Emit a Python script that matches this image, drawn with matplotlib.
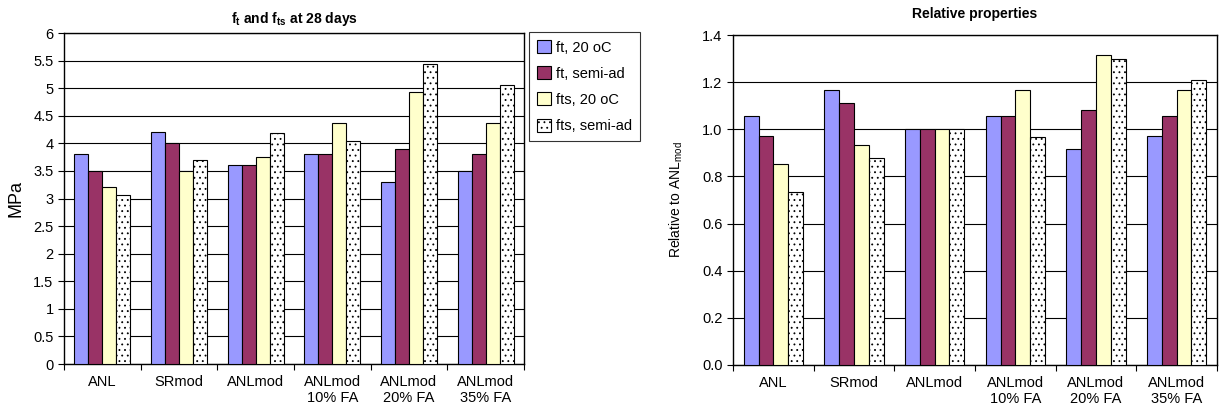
import numpy as np
import matplotlib.pyplot as plt

plt.rcParams['font.family'] = ['Liberation Sans', 'DejaVu Sans']
plt.rcParams['hatch.linewidth'] = 0.6

categories = ['ANL', 'SRmod', 'ANLmod', 'ANLmod\n10% FA', 'ANLmod\n20% FA', 'ANLmod\n35% FA']
series = ['ft, 20 oC', 'ft, semi-ad', 'fts, 20 oC', 'fts, semi-ad']

# MPa values
ft_20 = [3.8, 4.2, 3.6, 3.8, 3.3, 3.5]
ft_semi = [3.5, 4.0, 3.6, 3.8, 3.9, 3.8]
fts_20 = [3.2, 3.5, 3.75, 4.37, 4.93, 4.37]
fts_semi = [3.07, 3.7, 4.18, 4.05, 5.43, 5.05]

# relative to ANLmod
rel_ft_20 = [1.055, 1.167, 1.0, 1.056, 0.917, 0.972]
rel_ft_semi = [0.972, 1.111, 1.0, 1.056, 1.083, 1.056]
rel_fts_20 = [0.853, 0.933, 1.0, 1.165, 1.315, 1.165]
rel_fts_semi = [0.733, 0.88, 1.0, 0.969, 1.30, 1.21]

colors = ['#9999FF', '#993366', '#FFFFCC', 'white']
hatches = [None, None, None, '...']

fig = plt.figure(figsize=(12.26, 4.12), dpi=100)
ax1 = fig.add_axes([64 / 1226, 1 - 364 / 412, 460 / 1226, 331 / 412])
ax2 = fig.add_axes([733 / 1226, 1 - 365 / 412, 484 / 1226, 330 / 412])

x = np.arange(len(categories))
w = 0.183


def draw(ax, data, ymax, step, fmt):
    handles = []
    for i, vals in enumerate(data):
        b = ax.bar(x - 1.5 * w + i * w, vals, w, color=colors[i], hatch=hatches[i],
                   edgecolor='black', linewidth=0.8, zorder=3)
        handles.append(b)
    ax.set_xlim(-0.5, len(categories) - 0.5)
    ax.set_ylim(0, ymax)
    ticks = np.arange(0, ymax + step / 2, step)
    ax.set_yticks(ticks)
    ax.set_yticklabels([fmt(t) for t in ticks], fontsize=10.5)
    ax.yaxis.grid(True, color='black', linewidth=0.8, zorder=0)
    ax.set_axisbelow(True)
    ax.set_xticks(np.arange(-0.5, len(categories), 1))
    ax.set_xticklabels([])
    ax.set_xticks(x, minor=True)
    ax.set_xticklabels(categories, minor=True, fontsize=10.5)
    ax.tick_params(axis='x', which='minor', length=0, pad=8)
    ax.tick_params(axis='x', which='major', length=4, direction='out')
    ax.tick_params(axis='y', length=4, direction='out')
    for s in ax.spines.values():
        s.set_linewidth(1.0)
    return handles


h = draw(ax1, [ft_20, ft_semi, fts_20, fts_semi], 6, 0.5, lambda t: f'{t:g}')
ax1.set_title(r'f$_\mathregular{t}$ and f$_\mathregular{ts}$ at 28 days', fontsize=10, fontweight='bold', pad=7)
ax1.set_ylabel('MPa', fontsize=13, labelpad=6)
leg = ax1.legend(h, series, loc='upper left', bbox_to_anchor=(1.011, 1.003), fontsize=10.5,
                 frameon=True, fancybox=False, edgecolor='black', handlelength=0.95,
                 handleheight=1.0, handletextpad=0.35, labelspacing=0.8, borderpad=0.55,
                 borderaxespad=0)
leg.get_frame().set_linewidth(0.8)

draw(ax2, [rel_ft_20, rel_ft_semi, rel_fts_20, rel_fts_semi], 1.4, 0.2, lambda t: f'{t:.1f}')
ax2.set_title('Relative properties', fontsize=10, fontweight='bold', pad=12)
ax2.set_ylabel(r'Relative to ANL$_\mathregular{mod}$', fontsize=10, labelpad=12)

plt.savefig('out.png', dpi=100)
